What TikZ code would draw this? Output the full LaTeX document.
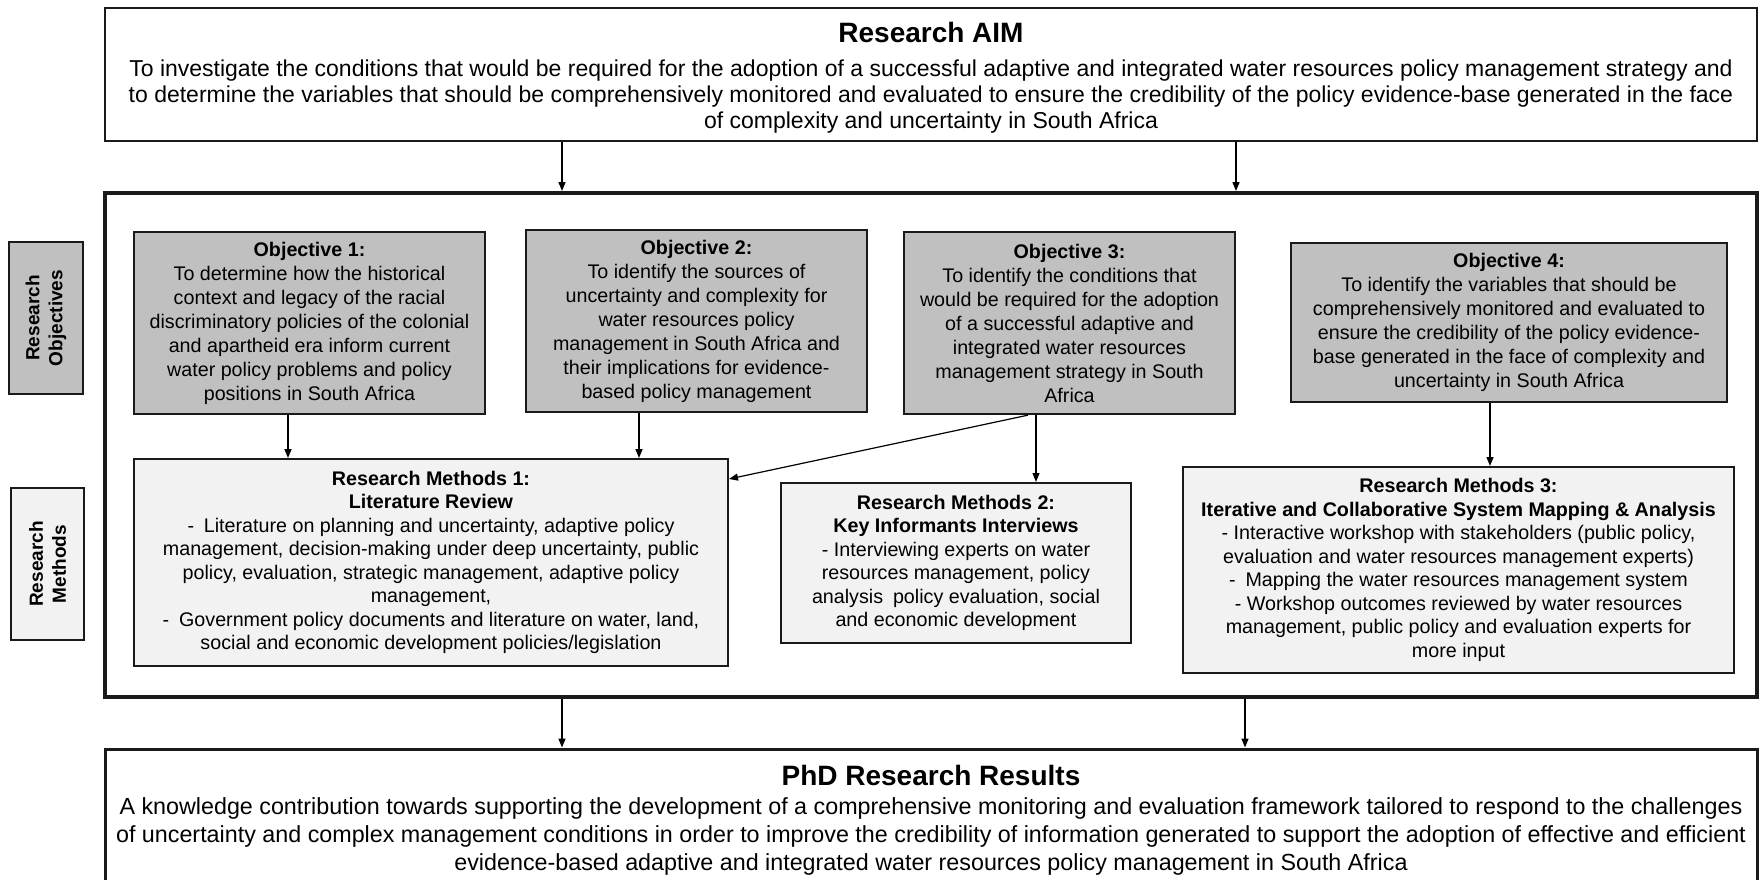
\documentclass[tikz,border=0pt]{standalone}
\usepackage{fontspec}
\setmainfont{Liberation Sans}
\usetikzlibrary{arrows.meta}
\definecolor{objfill}{HTML}{C0C0C0}
\definecolor{methfill}{HTML}{F2F2F2}
\definecolor{edge}{HTML}{1A1A1A}
\begin{document}
\begin{tikzpicture}[x=1pt,y=-1pt,
  box/.style={draw=edge, rectangle, inner sep=0pt, anchor=center},
  outerbox/.style={box, line width=2pt, fill=white},
  framebox/.style={box, line width=4pt},
  objbox/.style={box, fill=objfill, line width=2.3pt, align=center,
    font=\fontsize{19.7}{24}\selectfont},
  methbox/.style={box, fill=methfill, line width=2pt, align=center,
    font=\fontsize{19.7}{23.5}\selectfont},
  sidelabel/.style={box, line width=2.3pt, rotate=90, align=center,
    font=\fontsize{19}{23}\selectfont\bfseries},
  headtext/.style={font=\fontsize{28}{32}\selectfont\bfseries, inner sep=0pt},
  bodytext/.style={align=center, inner sep=0pt},
  arr/.style={draw=black, line width=1.5pt, -{Triangle[length=9pt,width=7pt]}},
  thinarr/.style={draw=black, line width=1.2pt, -{Triangle[length=9pt,width=7pt]}}]

\clip (0,0) rectangle (1762,880);
\fill[white] (0,0) rectangle (1762,880);

% aim
\node[outerbox, minimum width=1652pt, minimum height=133pt] (aim) at (931,74.5) {};
\node[headtext, anchor=base] (aimhead) at (931,43) {Research AIM};
\node[bodytext, font=\fontsize{23}{26}\selectfont] (aimbody) at (931,96.5)
  {To investigate the conditions that would be required for the adoption of a successful adaptive and integrated water resources policy management strategy and\\
   to determine the variables that should be comprehensively monitored and evaluated to ensure the credibility of the policy evidence-base generated in the face\\
   of complexity and uncertainty in South Africa};

% main frame
\node[framebox, minimum width=1652pt, minimum height=504pt] (frame) at (931,445) {};

% side labels
\node[sidelabel, fill=objfill, minimum width=152pt, minimum height=74pt] (lobj) at (46,318)
  {Research\\Objectives};
\node[sidelabel, fill=methfill, minimum width=152pt, minimum height=73pt] (lmeth) at (47.5,564)
  {Research\\Methods};

% objectives
\node[objbox, minimum width=351pt, minimum height=182pt] (o1) at (309.5,323)
  {\textbf{Objective 1:}\\
   To determine how the historical\\
   context and legacy of the racial\\
   discriminatory policies of the colonial\\
   and apartheid era inform current\\
   water policy problems and policy\\
   positions in South Africa};
\node[objbox, minimum width=341pt, minimum height=182pt] (o2) at (696.5,321)
  {\textbf{Objective 2:}\\
   To identify the sources of\\
   uncertainty and complexity for\\
   water resources policy\\
   management in South Africa and\\
   their implications for evidence-\\
   based policy management};
\node[objbox, minimum width=331pt, minimum height=182pt] (o3) at (1069.5,323)
  {\textbf{Objective 3:}\\
   To identify the conditions that\\
   would be required for the adoption\\
   of a successful adaptive and\\
   integrated water resources\\
   management strategy in South\\
   Africa};
\node[objbox, minimum width=436pt, minimum height=159pt] (o4) at (1509,322.5)
  {\textbf{Objective 4:}\\
   To identify the variables that should be\\
   comprehensively monitored and evaluated to\\
   ensure the credibility of the policy evidence-\\
   base generated in the face of complexity and\\
   uncertainty in South Africa};

% methods
\node[methbox, minimum width=594pt, minimum height=207pt] (m1) at (431,562.5)
  {\textbf{Research Methods 1:}\\
   \textbf{Literature Review}\\
   -\enspace Literature on planning and uncertainty, adaptive policy\\
   management, decision-making under deep uncertainty, public\\
   policy, evaluation, strategic management, adaptive policy\\
   management,\\
   -\enspace Government policy documents and literature on water, land,\\
   social and economic development policies/legislation};
\node[methbox, minimum width=350pt, minimum height=160pt] (m2) at (956,563)
  {\textbf{Research Methods 2:}\\
   \textbf{Key Informants Interviews}\\
   - Interviewing experts on water\\
   resources management, policy\\
   analysis\enspace policy evaluation, social\\
   and economic development};
\node[methbox, minimum width=551pt, minimum height=206pt] (m3) at (1458.5,570)
  {\textbf{Research Methods 3:}\\
   \textbf{Iterative and Collaborative System Mapping \& Analysis}\\
   - Interactive workshop with stakeholders (public policy,\\
   evaluation and water resources management experts)\\
   -\enspace Mapping the water resources management system\\
   - Workshop outcomes reviewed by water resources\\
   management, public policy and evaluation experts for\\
   more input};

% results
\node[box, line width=3pt, fill=white, minimum width=1652pt, minimum height=200pt] (res) at (931,849) {};
\node[headtext, anchor=base] (reshead) at (931,785) {PhD Research Results};
\node[bodytext, font=\fontsize{23.3}{28}\selectfont] (resbody) at (931,836)
  {A knowledge contribution towards supporting the development of a comprehensive monitoring and evaluation framework tailored to respond to the challenges\\
   of uncertainty and complex management conditions in order to improve the credibility of information generated to support the adoption of effective and efficient\\
   evidence-based adaptive and integrated water resources policy management in South Africa};

% connectors
\draw[arr] ([xshift=-369pt]aim.south) -- ([xshift=-369pt]aim.south |- frame.north);
\draw[arr] ([xshift=305pt]aim.south) -- ([xshift=305pt]aim.south |- frame.north);
\draw[arr] ([xshift=-21.5pt]o1.south) -- ([xshift=-21.5pt]o1.south |- m1.north);
\draw[arr] ([xshift=-57.5pt]o2.south) -- ([xshift=-57.5pt]o2.south |- m1.north);
\draw[thinarr] ([xshift=-33.5pt]o3.south) -- ([xshift=-33.5pt]o3.south |- m2.north);
\draw[thinarr] ([xshift=-41.5pt]o3.south) -- ([yshift=83.5pt]m1.east);
\draw[arr] ([xshift=-19pt]o4.south) -- ([xshift=-19pt]o4.south |- m3.north);
\draw[arr] ([xshift=-369pt]frame.south) -- ([xshift=-369pt]frame.south |- res.north);
\draw[arr] ([xshift=314pt]frame.south) -- ([xshift=314pt]frame.south |- res.north);
\end{tikzpicture}
\end{document}
